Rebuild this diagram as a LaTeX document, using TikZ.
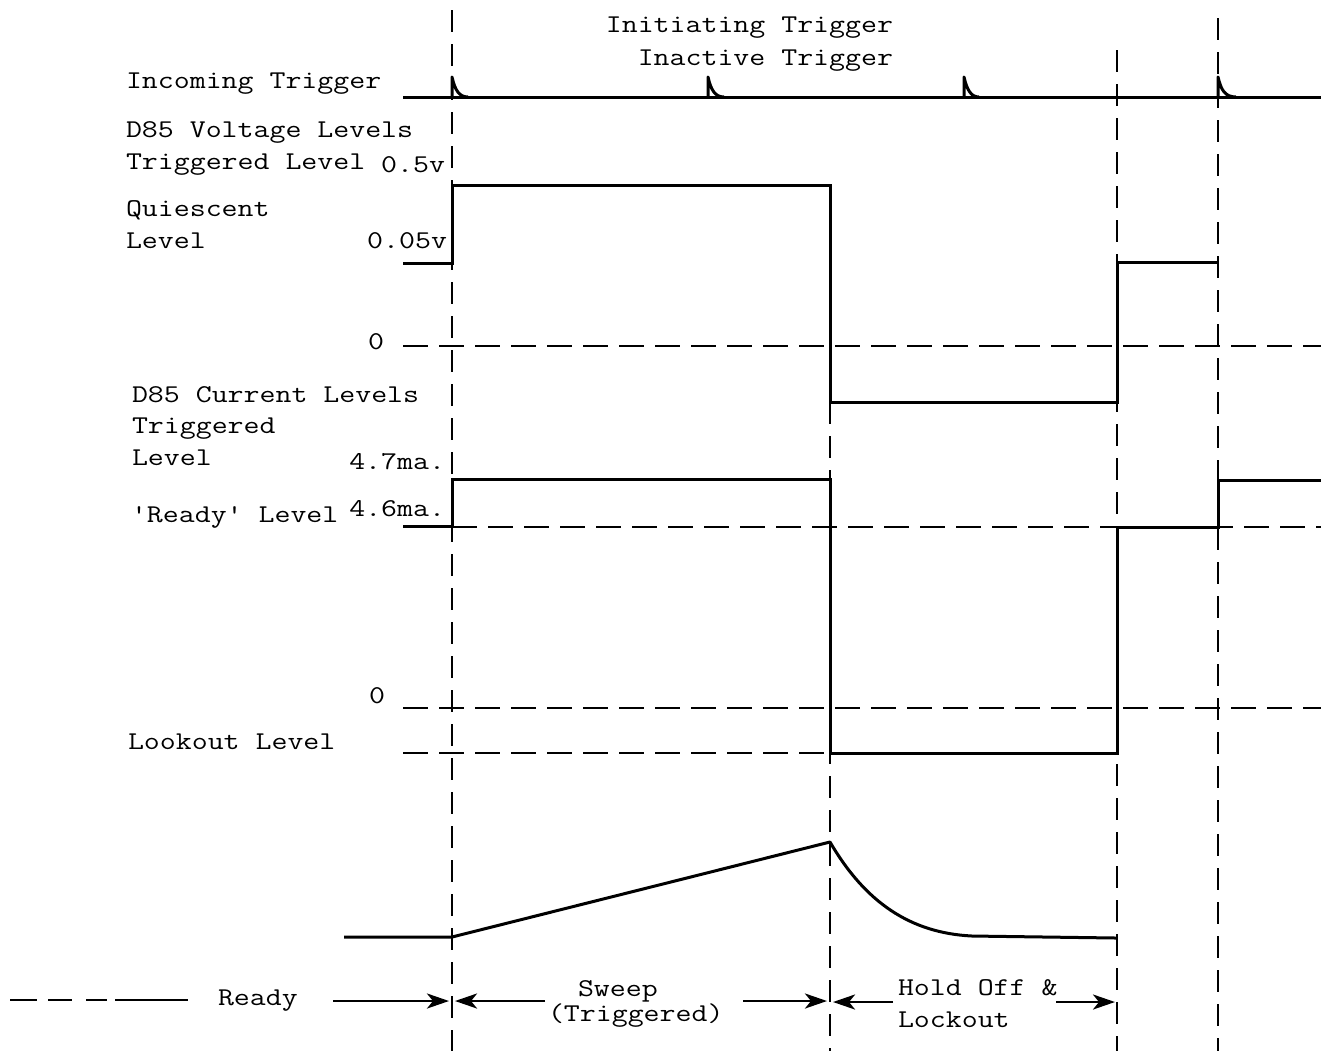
\documentclass[tikz,border=0pt]{standalone}
\usepackage{graphicx}
\usetikzlibrary{arrows.meta}
\newcommand{\tw}[1]{\scalebox{1.21}[1]{\fontsize{12.8}{15}\selectfont\ttfamily #1}}
\tikzset{
  lbl/.style={inner sep=0pt, outer sep=0pt, anchor=base west},
  lblr/.style={inner sep=0pt, outer sep=0pt, anchor=base east},
  wave/.style={line width=1.5pt, line join=miter},
  refline/.style={line width=1pt, dash pattern=on 12.5pt off 5.5pt},
  vline/.style={line width=1pt, dash pattern=on 11pt off 6pt},
  span/.style={line width=1.4pt, -{Stealth[length=11pt,width=7.5pt,inset=3pt]}}
}
\begin{document}
\begin{tikzpicture}[x=0.5pt,y=-0.5pt]
\useasboundingbox (0,0) rectangle (1321,1051);
% vertical dashed time markers
\coordinate (vAt) at (452,10);   \coordinate (vAb) at (452,1051);
\coordinate (vBt) at (830,402);  \coordinate (vBb) at (830,1051);
\coordinate (vCt) at (1117,50);  \coordinate (vCb) at (1117,1051);
\coordinate (vDt) at (1218,18);  \coordinate (vDb) at (1218,1051);
\draw[vline] (vAt) -- (vAb);
\draw[vline] (vBt) -- (vBb);
\draw[vline] (vCt) -- (vCb);
\draw[vline] (vDt) -- (vDb);
% labels
\node[lblr] (initT) at (893,32) {\tw{Initiating Trigger}};
\node[lblr] (inactT) at (893,65) {\tw{Inactive Trigger}};
\node[lbl] (incT) at (126,88) {\tw{Incoming Trigger}};
\node[lbl] (voltL) at (126,137) {\tw{D85 Voltage Levels}};
\node[lbl] (trigL) at (126,169) {\tw{Triggered Level}};
\node[lblr] (vHi) at (445,172) {\tw{0.5v}};
\node[lbl] (quiesA) at (126,216) {\tw{Quiescent}};
\node[lbl] (quiesB) at (126,248) {\tw{Level}};
\node[lblr] (vLo) at (447,248) {\tw{0.05v}};
\node[lbl] (vZero) at (368,349) {\tw{0}};
\node[lbl] (currL) at (132,402) {\tw{D85 Current Levels}};
\node[lbl] (ctrigA) at (132,433) {\tw{Triggered}};
\node[lbl] (ctrigB) at (132,465) {\tw{Level}};
\node[lblr] (iHi) at (445,469) {\tw{4.7ma.}};
\node[lbl] (readyL) at (131,522) {\tw{\textquotesingle Ready\textquotesingle\ Level}};
\node[lblr] (iMid) at (445,516) {\tw{4.6ma.}};
\node[lbl] (iZero) at (369,703) {\tw{0}};
\node[lbl] (lockL) at (128,749) {\tw{Lookout Level}};
% incoming trigger line
\coordinate (tS) at (403,97); \coordinate (tE) at (1321,97);
\draw[wave] (tS) -- (tE);
\foreach \px/\w in {452/16, 708/16, 964/15, 1218/18}{
  \draw[wave, line join=round] (\px,97) -- (\px,77) .. controls (\px+3,90) and (\px+7,97) .. (\px+\w,97);
}
% voltage waveform
\draw[refline] (403,346) -- (1321,346);
\draw[wave] (403,263) -- (452,263) -- (452,185) -- (830,185) -- (830,402) -- (1117,402) -- (1117,262) -- (1218,262);
% current waveform
\draw[refline] (452,527) -- (1321,527);
\draw[refline] (403,708) -- (1321,708);
\draw[refline] (403,753) -- (830,753);
\draw[wave] (403,526) -- (452,526) -- (452,479) -- (830,479) -- (830,753) -- (1117,753) -- (1117,527) -- (1218,527) -- (1218,480) -- (1321,480);
% ramp
\draw[wave, line join=round] (344,937) -- (452,937) -- (830,842) .. controls (865,902) and (910,933) .. (972,936) -- (1116,938);
% bottom phases
\foreach \a/\b in {10/37, 48/72, 86/107}{ \draw[line width=1.2pt] (\a,1000) -- (\b,1000); }
\coordinate (rdL) at (115,1000); \coordinate (rdR) at (188,1000);
\draw[line width=1.2pt] (rdL) -- (rdR);
\node[lbl] (readyT) at (218,1005) {\tw{Ready}};
\coordinate (a1s) at (333,1001); \coordinate (a1e) at (449,1001);
\draw[span] (a1s) -- (a1e);
\coordinate (a2s) at (545,1001); \coordinate (a2e) at (455,1001);
\draw[span] (a2s) -- (a2e);
\node[lbl] (sweepA) at (578,996) {\tw{Sweep}};
\node[lbl] (sweepB) at (548,1021) {\tw{(Triggered)}};
\coordinate (a3s) at (743,1001); \coordinate (a3e) at (827,1001);
\draw[span] (a3s) -- (a3e);
\coordinate (a4s) at (893,1002); \coordinate (a4e) at (833,1002);
\draw[span] (a4s) -- (a4e);
\node[lbl] (holdA) at (898,995) {\tw{Hold Off \&}};
\node[lbl] (holdB) at (898,1027) {\tw{Lockout}};
\coordinate (a5s) at (1056,1002); \coordinate (a5e) at (1115,1002);
\draw[span] (a5s) -- (a5e);
\end{tikzpicture}
\end{document}
